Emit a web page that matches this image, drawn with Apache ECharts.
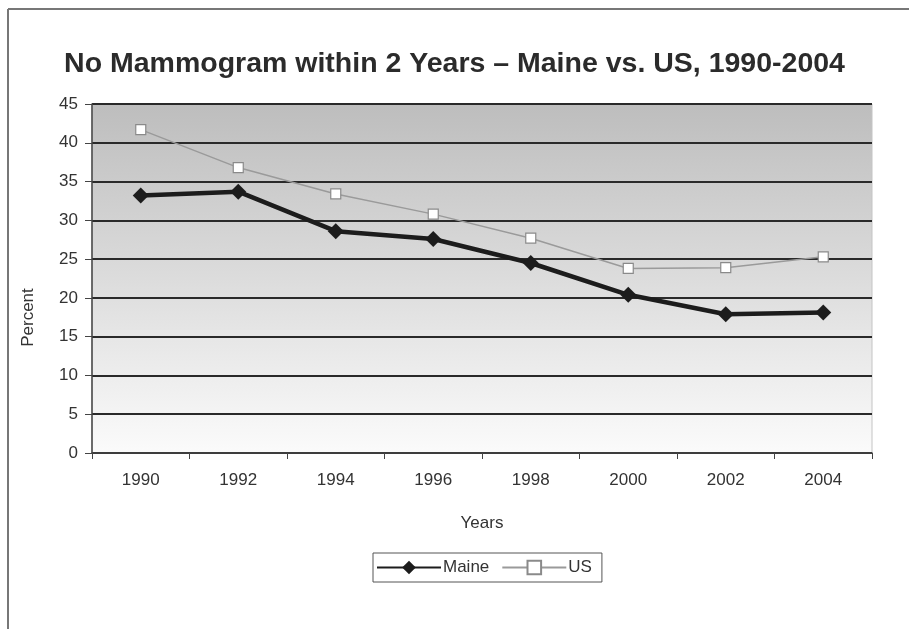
<!DOCTYPE html>
<html><head><meta charset="utf-8">
<script src="https://cdn.jsdelivr.net/npm/echarts@6/dist/echarts.min.js"></script>
<style>html,body{margin:0;padding:0;background:#fff}#c{width:909px;height:629px}</style>
</head><body><div id="c"></div>
<script>
const years = ['1990','1992','1994','1996','1998','2000','2002','2004'];
const maine = [33.2, 33.7, 28.6, 27.6, 24.5, 20.4, 17.9, 18.1];
const us = [41.7, 36.8, 33.4, 30.8, 27.7, 23.8, 23.9, 25.3];
const yTicks = [0,5,10,15,20,25,30,35,40,45];

const chart = echarts.init(document.getElementById('c'));
const font = '"Liberation Sans", Arial, sans-serif';
chart.setOption({
  animation: false,
  textStyle: {fontFamily: font},
  title: {
    text: 'No Mammogram within 2 Years \u2013 Maine vs. US, 1990-2004',
    left: 'center', top: 45,
    textStyle: {fontFamily: font, fontSize: 28.5, fontWeight: 'bold', color: '#2b2b2b'}
  },
  graphic: [
    {type: 'line', shape: {x1: 8, y1: 9, x2: 8, y2: 629}, style: {stroke: '#777', lineWidth: 2}},
    {type: 'line', shape: {x1: 8, y1: 9, x2: 909, y2: 9}, style: {stroke: '#777', lineWidth: 2}}
  ],
  grid: {
    left: 92, right: 37, top: 104, bottom: 176,
    show: true,
    borderColor: '#c4c4c4', borderWidth: 1,
    backgroundColor: new echarts.graphic.LinearGradient(0, 0, 0, 1, [
      {offset: 0, color: '#bdbdbd'},
      {offset: 0.45, color: '#d9d9d9'},
      {offset: 1, color: '#fbfbfb'}
    ])
  },
  legend: {
    top: 553, left: 373,
    itemWidth: 64, itemHeight: 17, itemGap: 12,
    borderColor: '#555', borderWidth: 1, padding: [6, 10, 6, 3],
    textStyle: {fontSize: 17, color: '#333', fontFamily: font, padding: [0, 0, 0, -3]},
    data: ['Maine', 'US']
  },
  xAxis: {
    type: 'category', data: years, boundaryGap: true,
    name: 'Years', nameLocation: 'middle', nameGap: 62,
    nameTextStyle: {fontSize: 17, color: '#333'},
    axisLine: {lineStyle: {color: '#444', width: 1.5}},
    axisTick: {show: true, length: 6, lineStyle: {color: '#444'}},
    axisLabel: {fontSize: 17, color: '#333', margin: 19}
  },
  yAxis: {
    type: 'value', min: yTicks[0], max: yTicks[yTicks.length-1], interval: 5,
    name: 'Percent', nameLocation: 'middle', nameGap: 55, nameRotate: 90,
    nameTextStyle: {fontSize: 17, color: '#333', padding: [0, 0, 0, -78]},
    axisLine: {show: true, lineStyle: {color: '#444', width: 1.5}},
    axisTick: {show: true, length: 7, lineStyle: {color: '#444'}},
    axisLabel: {fontSize: 17, color: '#333', margin: 14},
    splitLine: {lineStyle: {color: '#2a2a2a', width: 2}}
  },
  series: [
    {
      name: 'Maine', type: 'line', data: maine,
      symbol: 'diamond', symbolSize: 16,
      lineStyle: {color: '#1c1c1c', width: 4.5},
      itemStyle: {color: '#1c1c1c'}
    },
    {
      name: 'US', type: 'line', data: us,
      symbol: 'rect', symbolSize: 10,
      lineStyle: {color: '#9a9a9a', width: 1.5},
      itemStyle: {color: '#ffffff', borderColor: '#8a8a8a', borderWidth: 1.2}
    }
  ]
});
</script></body></html>
